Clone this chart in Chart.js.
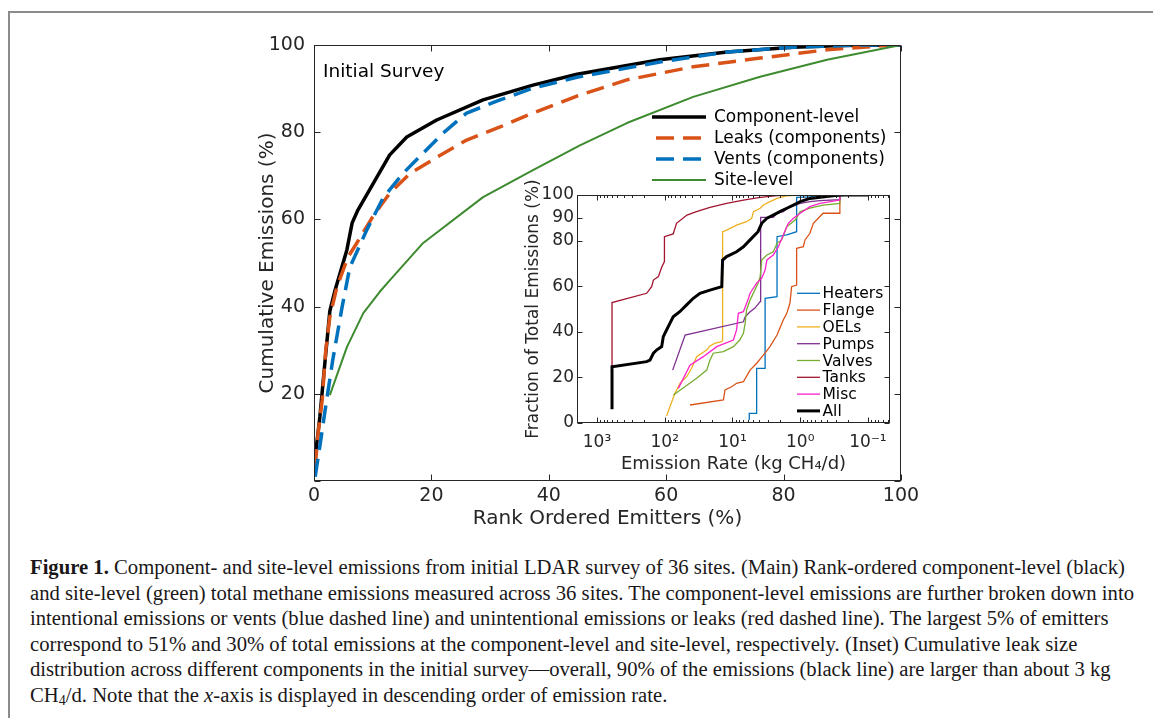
<!DOCTYPE html>
<html><head><meta charset="utf-8">
<script src="https://cdn.jsdelivr.net/npm/chart.js@4.4.0/dist/chart.umd.min.js"></script>
<style>
html,body{margin:0;padding:0;background:#fff;}
body{width:1153px;height:718px;position:relative;overflow:hidden;}
#frame{position:absolute;left:8px;top:11px;width:1300px;height:900px;border-left:2px solid #8c8c8c;border-top:2px solid #8c8c8c;}
#main{position:absolute;left:0;top:0;}
#inset{position:absolute;left:500px;top:180px;}
#caption{position:absolute;left:30px;top:555px;font-family:"Liberation Serif",serif;font-size:20.5px;line-height:25.6px;color:#1a1718;white-space:nowrap;transform-origin:0 0;}
#caption sub{font-size:0.68em;vertical-align:-0.25em;line-height:0;}
#caption div{display:block;width:max-content;}
</style></head><body>
<div id="frame"></div>
<canvas id="main" width="1153" height="540"></canvas>
<canvas id="inset" width="410" height="300"></canvas>
<div id="caption">
<div><b>Figure 1.</b> Component- and site-level emissions from initial LDAR survey of 36 sites. (Main) Rank-ordered component-level (black)</div>
<div id="cl2">and site-level (green) total methane emissions measured across 36 sites. The component-level emissions are further broken down into</div>
<div>intentional emissions or vents (blue dashed line) and unintentional emissions or leaks (red dashed line). The largest 5% of emitters</div>
<div>correspond to 51% and 30% of total emissions at the component-level and site-level, respectively. (Inset) Cumulative leak size</div>
<div>distribution across different components in the initial survey—overall, 90% of the emissions (black line) are larger than about 3 kg</div>
<div>CH<sub>4</sub>/d. Note that the <i>x</i>-axis is displayed in descending order of emission rate.</div>
</div>
<script>
// ---------------- main chart data ----------------
const rankTicks = [0, 20, 40, 60, 80, 100];
const cumTicks = [0, 20, 40, 60, 80, 100];
const seriesNames = ['Component-level', 'Leaks (components)', 'Vents (components)', 'Site-level'];

const compRank = [0.2, 1.0, 1.9, 2.7, 3.6, 5.6, 6.5, 7.5, 10.2, 12.9, 15.8, 20.9, 28.8, 37.3, 44.8, 58.9, 70.4, 81.6, 90, 100];
const compVal  = [5.5, 14.7, 27.8, 39, 43.8, 53, 59.2, 62.2, 68.5, 74.8, 78.9, 82.8, 87.4, 90.8, 93.3, 96.6, 98.4, 99.5, 99.9, 100];

const leakRank = [0.2, 0.7, 1.4, 2.0, 2.7, 3.9, 5.8, 7.3, 10, 12.9, 16.4, 21, 26, 31.7, 37.3, 44.8, 53.3, 64.6, 76, 87.4, 98.6, 100];
const leakVal  = [3.2, 11, 18.6, 30, 37.6, 44.5, 51.4, 54.6, 60.6, 66, 70.6, 74.3, 78.2, 81.2, 84.4, 88.3, 92, 95, 97, 98.9, 100, 100];

const ventRank = [0.2, 1.0, 1.9, 3.2, 4.8, 6.1, 9, 11.8, 15.2, 18.6, 22, 26, 31.7, 37.3, 44.8, 58.9, 70.4, 81.6, 93, 100];
const ventVal  = [1, 8, 16.3, 27.8, 40, 49, 57.6, 65, 70.6, 75.2, 79.8, 84.4, 87.4, 90.1, 92.6, 96.1, 98.4, 99.5, 100, 100];

const siteRank = [2.7, 5.6, 8.4, 11.2, 12.9, 18.6, 28.8, 37.3, 45.3, 53.3, 64.6, 76, 87.4, 100];
const siteVal  = [19.7, 30.7, 38.5, 43.4, 46, 54.6, 65.1, 71.3, 77, 82.1, 88.1, 92.7, 96.6, 100];

// ---------------- inset data (rate kg CH4/d, cumulative %) ----------------
const insetNames = ['Heaters', 'Flange', 'OELs', 'Pumps', 'Valves', 'Tanks', 'Misc', 'All'];
const insetYTicks = [0, 20, 40, 60, 80, 90, 100];
const insetXTicks = [1000, 100, 10, 1, 0.1];
const insetXLabels = ['10³', '10²', '10¹', '10⁰', '10⁻¹'];

const heatersRate = [5.65, 5.65, 4.4, 4.4, 3.3, 3.3, 2.2, 2.2, 1.58, 1.13, 1.13, 0.26, 0.2];
const heatersFrac = [1.3, 4.2, 4.2, 24, 24, 54.7, 55.4, 81.7, 82.5, 83.9, 99, 99.6, 100];

const flangeRate = [42.4, 13.6, 12.9, 10.3, 8.7, 6.9, 5.5, 4.4, 3.5, 2.8, 2.2, 1.78, 1.58, 1.42, 1.34, 1.13, 1.13, 0.9, 0.85, 0.72, 0.64, 0.46, 0.26, 0.26];
const flangeFrac = [7.9, 10.1, 14.5, 15.9, 17.4, 18.1, 23.2, 26.2, 29.8, 33.5, 38.6, 45.2, 48.1, 52.5, 59.8, 60.5, 76.6, 77.3, 80.3, 83.2, 87.6, 92, 92, 100];

const oelsRate = [93.7, 83.6, 70.6, 59.6, 47.5, 40.1, 33.8, 28.5, 24, 21.5, 18.1, 14.4, 14, 14, 12.2, 8.7, 6.2, 5.2, 4.9, 3.9, 3.5, 2.8, 2.2, 1.6, 1.0];
const oelsFrac = [3.1, 7.2, 13, 17.4, 20.3, 24, 29.1, 30.6, 32, 33.8, 35, 35.7, 36.4, 83.9, 84.6, 86.8, 88.3, 89.8, 92.7, 94.2, 95.6, 97.1, 98.5, 99.6, 100];

const pumpsRate = [76.4, 50, 6.9, 6.5, 5.5, 4.7, 3.9, 3.84, 3.84, 2.5, 2.2, 1.78, 1.42, 1.0, 0.72, 0.51, 0.26, 0.26];
const pumpsFrac = [23.2, 38.6, 44.4, 46.6, 48.8, 50.3, 53.2, 55.1, 90.2, 90.2, 92, 92.7, 94.9, 96.3, 97.1, 97.5, 98, 100];

const valvesRate = [74.6, 33.8, 24, 21.5, 19.2, 13.6, 9.7, 7.8, 6.9, 6.5, 6.2, 5.5, 4.2, 3.9, 3.7, 3.1, 2.5, 2.2, 1.88, 1.58, 1.19, 1.0, 0.72, 0.46, 0.26, 0.26];
const valvesFrac = [12.3, 19.6, 23.2, 27.6, 30.6, 31.3, 33.5, 36.4, 39.3, 43.7, 49.6, 53.9, 61.3, 64.2, 71.5, 73.7, 75.1, 78.8, 80.3, 86.1, 89, 92.7, 94.2, 95.6, 96.3, 100];

const tanksRate = [600, 600, 185, 156, 147, 124, 111, 101, 101, 75, 67, 47, 34, 21.5, 12.2, 6.9, 3.9, 2.2, 1.26, 0.26];
const tanksFrac = [7, 52.8, 56.9, 59.8, 62.7, 64.2, 68.3, 70.8, 81.7, 82.9, 87.6, 91.2, 92.7, 94.6, 96.3, 97.8, 99, 99.7, 100, 100];

const miscRate = [63, 42.4, 27, 17.1, 9.7, 8.7, 8.2, 6.9, 5.8, 5.5, 4.4, 3.7, 3.3, 3.1, 2.5, 2.1, 1.78, 1.5, 1.26, 1.0, 0.72, 0.51, 0.26, 0.26];
const miscFrac = [15.2, 25.4, 29.1, 33.5, 36.4, 40.8, 48.1, 48.8, 54.7, 56.9, 61.3, 63.5, 67.1, 71.5, 73.7, 77.3, 82.5, 87.6, 89.8, 92, 94.9, 96.3, 97.8, 100];

const allRate = [600, 600, 185, 165, 147, 132, 111, 105, 94, 84, 75, 60, 47.5, 37.9, 30.2, 21.5, 14.4, 14, 12.2, 8.7, 6.9, 5.5, 4.2, 3.7, 3.1, 2.5, 2.0, 1.58, 1.26, 1.0, 0.72, 0.41, 0.26, 0.1];
const allFrac = [6, 24.7, 26.9, 27.6, 30.6, 32, 33.5, 37.9, 40.8, 43.7, 46.6, 48.8, 51.8, 54.7, 56.9, 58.3, 59.8, 71.5, 73, 75.1, 77.3, 80.3, 83.9, 87.6, 89.8, 91.2, 92.7, 94.2, 95.6, 97.1, 98.5, 99.3, 100, 100];

// ---------------- helpers & styles ----------------
const pts = (xs, ys) => xs.map((x, i) => ({x: x, y: ys[i]}));
const AX = '#262626';
const SANS = '"DejaVu Sans", sans-serif';

const mainDecor = {
  id: 'mainDecor',
  afterDraw(chart) {
    const {ctx, chartArea: a, scales: {x, y}} = chart;
    const L = Math.round(a.left) + 0.5, R = Math.round(a.right) - 0.5;
    const T = Math.round(a.top) + 0.5, B = Math.round(a.bottom) - 0.5;
    ctx.save();
    ctx.strokeStyle = AX; ctx.lineWidth = 1; ctx.setLineDash([]);
    ctx.strokeRect(L, T, R - L, B - T);
    ctx.beginPath();
    rankTicks.forEach(v => {
      const px = Math.round(x.getPixelForValue(v)) + 0.5;
      ctx.moveTo(px, B); ctx.lineTo(px, B - 6);
      ctx.moveTo(px, T); ctx.lineTo(px, T + 6);
    });
    cumTicks.forEach(v => {
      const py = Math.round(y.getPixelForValue(v)) + 0.5;
      ctx.moveTo(L, py); ctx.lineTo(L + 6, py);
      ctx.moveTo(R, py); ctx.lineTo(R - 6, py);
    });
    ctx.stroke();
    ctx.fillStyle = '#000';
    ctx.font = '18.5px ' + SANS;
    ctx.textBaseline = 'alphabetic';
    ctx.textAlign = 'left';
    ctx.fillText('Initial Survey', 323, 77);
    // legend
    chart.data.datasets.forEach((ds, i) => {
      const yy = 117 + i * 21;
      ctx.beginPath();
      ctx.lineWidth = ds.borderWidth;
      ctx.strokeStyle = ds.borderColor;
      if (ds.borderDash) { ctx.setLineDash(ds.borderDash); ctx.moveTo(656, yy); ctx.lineTo(703, yy); }
      else { ctx.setLineDash([]); ctx.moveTo(652, yy); ctx.lineTo(706, yy); }
      ctx.stroke();
      ctx.setLineDash([]);
      ctx.fillStyle = '#000';
      ctx.font = '17px ' + SANS;
      ctx.textBaseline = 'middle';
      ctx.fillText(ds.label, 714, yy + 1);
    });
    ctx.restore();
  }
};

new Chart(document.getElementById('main'), {
  type: 'line',
  data: {
    datasets: [
      {label: seriesNames[0], data: pts(compRank, compVal), borderColor: '#000000', borderWidth: 3.5, order: 4},
      {label: seriesNames[1], data: pts(leakRank, leakVal), borderColor: '#D95319', borderWidth: 3.5, borderDash: [18, 9], order: 3},
      {label: seriesNames[2], data: pts(ventRank, ventVal), borderColor: '#0072BD', borderWidth: 3.5, borderDash: [18, 9], order: 2},
      {label: seriesNames[3], data: pts(siteRank, siteVal), borderColor: '#3D8B2F', borderWidth: 2, order: 1}
    ]
  },
  options: {
    responsive: false, animation: false, devicePixelRatio: 1,
    elements: {point: {radius: 0}, line: {tension: 0, fill: false, borderCapStyle: 'butt', borderJoinStyle: 'round'}},
    layout: {padding: {left: 256, right: 252, top: 45, bottom: 9}},
    plugins: {legend: {display: false}, tooltip: {enabled: false}},
    scales: {
      x: {
        type: 'linear', min: 0, max: 100,
        afterBuildTicks: s => { s.ticks = rankTicks.map(v => ({value: v})); },
        afterFit: s => { s.height = 50; },
        grid: {display: false, drawTicks: false}, border: {display: false},
        ticks: {padding: 4, color: AX, font: {family: SANS, size: 19}, maxRotation: 0, autoSkip: false},
        title: {display: true, text: 'Rank Ordered Emitters (%)', color: AX, font: {family: SANS, size: 20}, padding: 0}
      },
      y: {
        type: 'linear', min: 0, max: 100,
        afterBuildTicks: s => { s.ticks = cumTicks.map(v => ({value: v})); },
        afterFit: s => { s.width = 58; },
        grid: {display: false, drawTicks: false}, border: {display: false},
        ticks: {padding: 9, color: AX, font: {family: SANS, size: 19}, autoSkip: false, callback: v => (v === 0 ? '' : String(v))},
        title: {display: true, text: 'Cumulative Emissions (%)', color: AX, font: {family: SANS, size: 20}, padding: 0}
      }
    }
  },
  plugins: [mainDecor]
});

// ---------------- inset ----------------
const insetColors = ['#0072BD', '#D95319', '#EDB120', '#7E2F8E', '#77AC30', '#A2142F', '#FF22CC', '#000000'];
const insetRates = [heatersRate, flangeRate, oelsRate, pumpsRate, valvesRate, tanksRate, miscRate, allRate];
const insetFracs = [heatersFrac, flangeFrac, oelsFrac, pumpsFrac, valvesFrac, tanksFrac, miscFrac, allFrac];

const insetDecor = {
  id: 'insetDecor',
  beforeDraw(chart) {
    const {ctx, chartArea: a} = chart;
    ctx.save(); ctx.fillStyle = '#fff';
    ctx.fillRect(a.left, a.top, a.right - a.left, a.bottom - a.top);
    ctx.restore();
  },
  afterDraw(chart) {
    const {ctx, chartArea: a, scales: {x, y}} = chart;
    const L = Math.round(a.left) + 0.5, R = Math.round(a.right) - 0.5;
    const T = Math.round(a.top) + 0.5, B = Math.round(a.bottom) - 0.5;
    ctx.save();
    ctx.strokeStyle = AX; ctx.lineWidth = 1;
    ctx.strokeRect(L, T, R - L, B - T);
    ctx.beginPath();
    insetYTicks.forEach(v => {
      const py = Math.round(y.getPixelForValue(v)) + 0.5;
      ctx.moveTo(L, py); ctx.lineTo(L + 5, py);
      ctx.moveTo(R, py); ctx.lineTo(R - 5, py);
    });
    for (let e = -2; e <= 3; e++) {
      for (let k = 1; k <= 9; k++) {
        const v = k * Math.pow(10, e);
        if (v < x.min || v > x.max) continue;
        const px = Math.round(x.getPixelForValue(v)) + 0.5;
        const len = k === 1 ? 5 : 2.5;
        ctx.moveTo(px, B); ctx.lineTo(px, B - len);
        ctx.moveTo(px, T); ctx.lineTo(px, T + len);
      }
    }
    ctx.stroke();
    // legend
    chart.data.datasets.forEach((ds, i) => {
      const yy = 113.3 + i * 16.8;
      ctx.beginPath();
      ctx.lineWidth = ds.borderWidth;
      ctx.strokeStyle = ds.borderColor;
      ctx.moveTo(297, yy); ctx.lineTo(320, yy);
      ctx.stroke();
      ctx.fillStyle = '#000';
      ctx.font = '15.5px ' + SANS;
      ctx.textBaseline = 'middle';
      ctx.fillText(ds.label, 322.5, yy + 1);
    });
    ctx.restore();
  }
};

new Chart(document.getElementById('inset'), {
  type: 'line',
  data: {
    datasets: insetNames.map((n, i) => ({
      label: n, data: pts(insetRates[i], insetFracs[i]),
      borderColor: insetColors[i], borderWidth: i === 7 ? 3 : 1.3, order: 8 - i
    }))
  },
  options: {
    responsive: false, animation: false, devicePixelRatio: 1,
    elements: {point: {radius: 0}, line: {tension: 0, fill: false, borderJoinStyle: 'miter'}},
    layout: {padding: {left: 23, right: 20, top: 15, bottom: 5}},
    plugins: {legend: {display: false}, tooltip: {enabled: false}},
    scales: {
      x: {
        type: 'logarithmic', reverse: true, min: 0.0473, max: 1973,
        afterBuildTicks: s => { s.ticks = insetXTicks.map(v => ({value: v})); },
        afterFit: s => { s.height = 52; },
        grid: {display: false, drawTicks: false}, border: {display: false},
        ticks: {padding: 9, color: AX, font: {family: SANS, size: 17}, maxRotation: 0, autoSkip: false,
          callback: v => { const k = insetXTicks.indexOf(v); return k >= 0 ? insetXLabels[k] : ''; }},
        title: {display: true, text: 'Emission Rate (kg CH₄/d)', color: AX, font: {family: SANS, size: 18}, padding: 0}
      },
      y: {
        type: 'linear', min: 0, max: 100,
        afterBuildTicks: s => { s.ticks = insetYTicks.map(v => ({value: v})); },
        afterFit: s => { s.width = 54; },
        grid: {display: false, drawTicks: false}, border: {display: false},
        ticks: {padding: 3, color: AX, font: {family: SANS, size: 17}, autoSkip: false},
        title: {display: true, text: 'Fraction of Total Emissions (%)', color: AX, font: {family: SANS, size: 17}, padding: 0}
      }
    }
  },
  plugins: [insetDecor]
});

// fit caption width to the reference line length
const cap = document.getElementById('caption');
const w2 = document.getElementById('cl2').getBoundingClientRect().width;
cap.style.transform = 'scaleX(' + (1104 / w2) + ')';
</script>
</body></html>
